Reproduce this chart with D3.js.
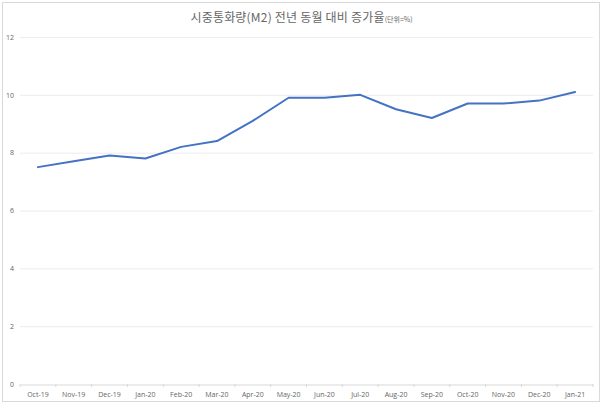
<!DOCTYPE html>
<html>
<head>
<meta charset="utf-8">
<script src="https://cdn.jsdelivr.net/npm/d3@7"></script>
<style>
  body { margin: 0; background: #fff; }
  svg { display: block; font-family: "Noto Sans CJK KR", "Open Sans", sans-serif; }
</style>
</head>
<body>
<svg id="chart"></svg>
<script>
// M2 money supply, year-over-year growth (%)
const months = ["Oct-19", "Nov-19", "Dec-19", "Jan-20", "Feb-20", "Mar-20", "Apr-20", "May-20",
    "Jun-20", "Jul-20", "Aug-20", "Sep-20", "Oct-20", "Nov-20", "Dec-20", "Jan-21"];
const growth = [7.5, 7.7, 7.9, 7.8, 8.2, 8.4, 9.1, 9.9, 9.9, 10.0, 9.5, 9.2, 9.7, 9.7, 9.8, 10.1];
const yTicks = [0, 2, 4, 6, 8, 10, 12];

const width = 603;
const height = 405;
const margin = { top: 37, right: 10, bottom: 21, left: 20 };

const svg = d3.select("#chart")
    .attr("width", width)
    .attr("height", height);

// outer chart border
svg.append("rect")
    .attr("x", 2.5).attr("y", 2.5)
    .attr("width", width - 6).attr("height", height - 6)
    .attr("fill", "none")
    .attr("stroke", "#d9d9d9");

const x = d3.scaleBand()
    .domain(months)
    .range([margin.left, width - margin.right]);

const y = d3.scaleLinear()
    .domain([0, 12])
    .range([height - margin.bottom, margin.top]);

// gridlines
svg.append("g")
    .selectAll("line")
    .data(yTicks.filter(d => d > 0))
    .enter().append("line")
    .attr("x1", margin.left)
    .attr("x2", width - margin.right)
    .attr("y1", d => y(d) + 0.5)
    .attr("y2", d => y(d) + 0.5)
    .attr("stroke", "#ececec");

// y axis labels
const yAxis = svg.append("g")
    .attr("transform", `translate(${margin.left},0)`)
    .call(d3.axisLeft(y).tickValues(yTicks).tickSize(0).tickPadding(6));
yAxis.select(".domain").remove();
yAxis.selectAll("text")
    .attr("fill", "#666")
    .style("font-size", "7px")
    .style("font-family", "'Open Sans', sans-serif");

// x axis
const xAxis = svg.append("g")
    .attr("transform", `translate(0,${y(0) + 0.5})`)
    .call(d3.axisBottom(x).tickSizeOuter(0).tickSize(0).tickPadding(8));
xAxis.select(".domain").attr("stroke", "#d9d9d9");
xAxis.selectAll("text")
    .attr("fill", "#666")
    .style("font-size", "7px")
    .style("font-family", "'Open Sans', sans-serif");

// category separators on the x axis
svg.append("g")
    .selectAll("line")
    .data(months.concat([null]))
    .enter().append("line")
    .attr("x1", (d, i) => margin.left + i * x.step())
    .attr("x2", (d, i) => margin.left + i * x.step())
    .attr("y1", y(0))
    .attr("y2", y(0) + 3)
    .attr("stroke", "#d9d9d9");

// the line
const line = d3.line()
    .x((d, i) => x(months[i]) + x.bandwidth() / 2)
    .y(d => y(d));

svg.append("path")
    .datum(growth)
    .attr("d", line)
    .attr("fill", "none")
    .attr("stroke", "#4472c4")
    .attr("stroke-width", 2)
    .attr("stroke-linejoin", "round")
    .attr("stroke-linecap", "round");

// title
const title = svg.append("text")
    .attr("x", width / 2)
    .attr("y", 22)
    .attr("text-anchor", "middle")
    .attr("fill", "#666");
title.append("tspan")
    .style("font-size", "12px")
    .style("letter-spacing", "0.2px")
    .text("시중통화량(M2) 전년 동월 대비 증가율");
title.append("tspan")
    .style("font-size", "7px")
    .text("(단위=%)");
</script>
</body>
</html>
